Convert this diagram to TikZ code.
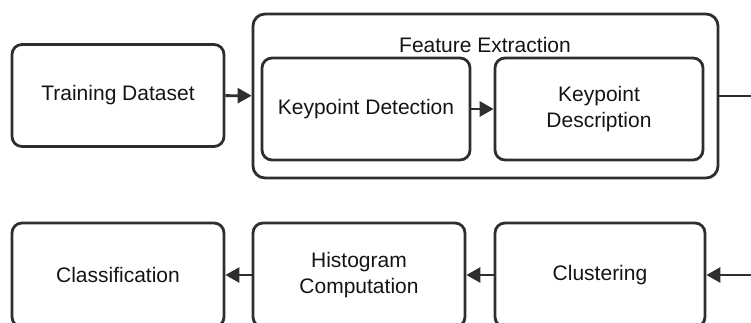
\documentclass[tikz,border=0pt]{standalone}
\usepackage{fontspec}
\setmainfont{Liberation Sans}
\usetikzlibrary{arrows.meta}

\definecolor{linha}{rgb}{0.18,0.18,0.18}
\definecolor{texto}{rgb}{0.08,0.08,0.08}

\tikzset{
    bloco/.style={draw=linha, line width=2.8pt, rounded corners=10pt, text=texto,
        align=center, inner sep=0pt, font=\fontsize{21}{26}\selectfont},
    rotulo/.style={text=texto, inner sep=0pt, font=\fontsize{21}{26}\selectfont},
    seta/.style={draw=linha, line width=2.8pt, -{Triangle[length=14pt,width=15pt]}},
    ligacao/.style={draw=linha, line width=2.8pt}
}

\begin{document}
\begin{tikzpicture}[x=1pt,y=-1pt]
        \useasboundingbox (0,0) rectangle (751,323);
        \clip (0,0) rectangle (751,323);

        \node[bloco, minimum width=465pt, minimum height=164pt, rounded corners=12pt] (fe) at (485.5,96) {};
        \node[rotulo] (fetitulo) at (485,45) {Feature Extraction};

        \node[bloco, minimum width=212pt, minimum height=102pt] (treino) at (118,95.5) {Training Dataset};
        \node[bloco, minimum width=208pt, minimum height=102pt] (kdet) at (366,109) {Keypoint Detection};
        \node[bloco, minimum width=208pt, minimum height=102pt] (kdesc) at (599,109) {Keypoint\\Description};

        \node[bloco, minimum width=212pt, minimum height=104pt] (classif) at (118,275) {Classification};
        \node[bloco, minimum width=212pt, minimum height=104pt] (hist) at (359,275) {Histogram\\Computation};
        \node[bloco, minimum width=210pt, minimum height=104pt] (clust) at (600,275) {Clustering};

        \coordinate (saida) at (751,96);
        \coordinate (entrada) at (751,275);

        \draw[seta] (treino) -- (fe);
        \draw[seta] (kdet) -- (kdesc);
        \draw[ligacao] (fe.east) -- (saida);
        \draw[seta] (entrada) -- (clust.east);
        \draw[seta] (clust) -- (hist);
        \draw[seta] (hist) -- (classif);
\end{tikzpicture}
\end{document}
